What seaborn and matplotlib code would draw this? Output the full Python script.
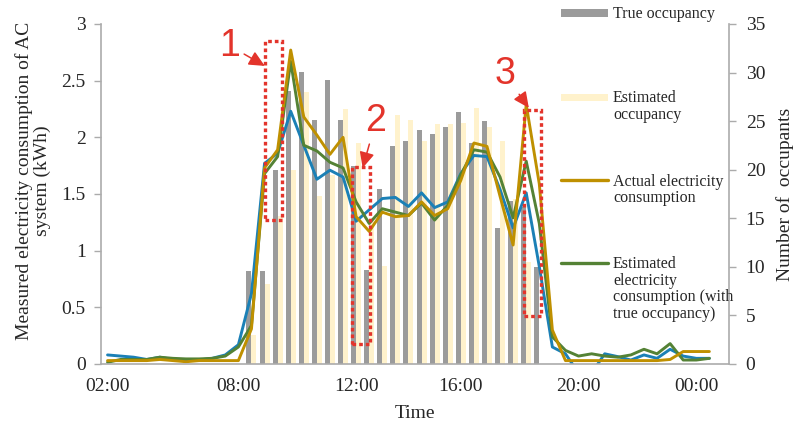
import pandas as pd
import matplotlib.pyplot as plt
import seaborn as sns
from matplotlib.patches import Rectangle
from matplotlib.lines import Line2D

# ---- data (one value per half-hour slot, 48 slots on the time axis) ----
true_occupancy = [0, 0, 0, 0, 0, 0, 0, 0, 0, 0, 0,
                  9.6, 9.6, 20.0, 28.1, 30.1, 25.1, 29.2, 25.1, 20.4, 9.7,
                  18.0, 22.4, 23.0, 24.1, 23.7, 24.4, 25.9, 22.7, 25.0, 14.0,
                  16.8, 16.2, 10.0,
                  0, 0, 0, 0, 0, 0, 0, 0, 0, 0, 0, 0, 0, 0]
est_occupancy = [0, 0, 0, 0, 0, 0, 0, 0, 0, 0, 0,
                 3.0, 8.2, 15.2, 20.0, 28.0, 17.3, 19.5, 26.2, 22.7, 15.0,
                 10.1, 25.6, 25.1, 23.0, 24.7, 24.7, 24.8, 26.4, 24.4, 23.0,
                 17.0, 10.5, 0,
                 0, 0, 0, 0, 0, 0, 0, 0, 0, 0, 0, 0, 0, 0]

# electricity (kWh), 47 readings
actual_kwh = [0.03, 0.03, 0.03, 0.03, 0.04, 0.03, 0.02, 0.03, 0.03, 0.03,
              0.03, 0.31, 1.73, 1.89, 2.77, 2.18, 2.02, 1.85, 2.00, 1.30,
              1.17, 1.34, 1.30, 1.31, 1.43, 1.31, 1.37, 1.62, 1.95, 1.92,
              1.48, 1.05, 2.29, 1.59, 0.30, 0.03, 0.03, 0.03, 0.03, 0.03,
              0.03, 0.03, 0.03, 0.04, 0.11, 0.11, 0.11]
est_kwh_true_occ = [0.015, 0.04, 0.04, 0.04, 0.06, 0.05, 0.045, 0.045, 0.05, 0.07,
                    0.15, 0.34, 1.68, 1.83, 2.67, 1.93, 1.88, 1.78, 1.73, 1.43,
                    1.24, 1.37, 1.34, 1.31, 1.42, 1.27, 1.40, 1.67, 1.89, 1.87,
                    1.65, 1.29, 1.79, 1.24, 0.24, 0.12, 0.07, 0.09, 0.07, 0.06,
                    0.08, 0.13, 0.09, 0.18, 0.035, 0.035, 0.05]
est_kwh_est_occ = [0.08, 0.07, 0.06, 0.04, 0.06, 0.04, 0.035, 0.035, 0.05, 0.08,
                   0.17, 0.62, 1.77, 1.86, 2.23, 1.93, 1.63, 1.71, 1.65, 1.26,
                   1.36, 1.46, 1.47, 1.39, 1.51, 1.38, 1.43, 1.68, 1.84, 1.83,
                   1.54, 1.20, 1.51, 0.86, 0.15, 0.09, -0.08, -0.08, 0.09, 0.065,
                   0.035, 0.08, 0.05, 0.13, 0.07, 0.05, 0.05]

time_tick_slots = [0, 10, 19, 27, 36, 45]
time_tick_labels = ["02:00", "08:00", "12:00", "16:00", "20:00", "00:00"]

# highlighted periods: (first slot edge, last slot edge, low kWh, high kWh)
highlight_boxes = [(12.07, 13.37, 1.27, 2.85),
                   (18.69, 20.03, 0.18, 1.74),
                   (31.82, 33.14, 0.42, 2.24)]
highlight_labels = ["1", "2", "3"]
label_xy = [(9.3, 2.81), (20.5, 2.14), (30.35, 2.56)]
arrow_tip = [(12.02, 2.63), (19.5, 1.73), (32.2, 2.26)]

GRAY = "#9b9b9b"
YELLOW = "#fff2cc"
GOLD = "#bf9000"
GREEN = "#548235"
BLUE = "#1b80b6"
RED = "#e3342b"
AXC = "#ababab"

sns.set_style("white")
plt.rcParams["font.family"] = ["Liberation Serif", "DejaVu Serif"]

fig = plt.figure(figsize=(8.01, 4.25), dpi=100)
ax = fig.add_axes([101 / 801, 1 - 364 / 425, 628 / 801, 340 / 425])
ax2 = ax.twinx()

n_slots = len(true_occupancy)
bars = pd.DataFrame({
    "slot": list(range(n_slots)) * 2,
    "occupants": true_occupancy + est_occupancy,
    "series": ["True occupancy"] * n_slots + ["Estimated occupancy"] * n_slots,
})
sns.barplot(data=bars, x="slot", y="occupants", hue="series",
            hue_order=["True occupancy", "Estimated occupancy"],
            palette=[GRAY, YELLOW], width=0.76, saturation=1,
            errorbar=None, legend=False, linewidth=0, ax=ax2)

slots = list(range(len(actual_kwh)))
sns.lineplot(x=slots, y=est_kwh_est_occ, color=BLUE, lw=2.1, ax=ax)
sns.lineplot(x=slots, y=est_kwh_true_occ, color=GREEN, lw=2.1, ax=ax)
sns.lineplot(x=slots, y=actual_kwh, color=GOLD, lw=2.1, ax=ax)

ax.set_zorder(ax2.get_zorder() + 1)
ax.patch.set_visible(False)

# red dotted boxes + numbered arrows
for (x0, x1, y0, y1) in highlight_boxes:
    ax.add_patch(Rectangle((x0, y0), x1 - x0, y1 - y0, fill=False,
                           edgecolor=RED, lw=2.4, linestyle=(0, (1.1, 0.9)),
                           zorder=5))
for lab, xy, tip in zip(highlight_labels, label_xy, arrow_tip):
    ax.annotate(lab, xy=tip, xytext=xy, ha="center", va="center",
                fontsize=27, color=RED, family="Liberation Sans",
                arrowprops=dict(arrowstyle="-|>,head_length=0.95,head_width=0.45",
                                mutation_scale=10, lw=1.1, color=RED,
                                shrinkA=1, shrinkB=0), zorder=6)

# axes limits / ticks
ax.set_xlim(-0.5, n_slots - 0.5)
ax.set_ylim(0, 3)
ax2.set_ylim(0, 35)
ax.set_yticks([0, 0.5, 1, 1.5, 2, 2.5, 3], ["0", "0.5", "1", "1.5", "2", "2.5", "3"])
ax2.set_yticks(range(0, 36, 5))
ax.set_xticks(time_tick_slots, time_tick_labels)
ax.set_xticks([i - 0.5 for i in range(n_slots + 1)], minor=True)

ax.tick_params(axis="x", which="major", length=0, pad=10, labelsize=14)
ax.tick_params(axis="x", which="minor", length=4, width=1, color=AXC, direction="out")
ax.tick_params(axis="y", length=5, width=1, color=AXC, direction="out", pad=6, labelsize=14)
ax2.tick_params(axis="y", length=5, width=1, color=AXC, direction="out", pad=7, labelsize=14)

for s in ["top", "right"]:
    ax.spines[s].set_visible(False)
for s in ["top", "left", "bottom"]:
    ax2.spines[s].set_visible(False)
for sp in [ax.spines["left"], ax.spines["bottom"], ax2.spines["right"]]:
    sp.set_color(AXC)
    sp.set_linewidth(1.2)
ax.grid(False)
ax2.grid(False)

ax.set_xlabel("Time", fontsize=14, labelpad=7)
ax.set_ylabel("Measured electricity consumption of AC\nsystem (kWh)", fontsize=14,
              linespacing=1.05)
ax.yaxis.set_label_coords(-0.08, 0.54)
ax2.set_ylabel("Number of  occupants", fontsize=14)
ax2.yaxis.set_label_coords(1.075, 0.5)

# legend at the right-hand side, Excel-style spacing
def fx(px):
    return px / 801


def fy(py):
    return 1 - py / 425


legend_rows = [("bar", GRAY, "True occupancy", 13),
               ("bar", YELLOW, "Estimated\noccupancy", 97),
               ("line", GOLD, "Actual electricity\nconsumption", 180),
               ("line", GREEN, "Estimated\nelectricity\nconsumption (with\ntrue occupancy)", 263)]
for kind, col, text, ypx in legend_rows:
    if kind == "bar":
        fig.add_artist(Rectangle((fx(561), fy(ypx + 3.5)), fx(608) - fx(561), 7 / 425,
                                 transform=fig.transFigure, color=col, lw=0))
    else:
        fig.add_artist(Line2D([fx(561), fx(608)], [fy(ypx), fy(ypx)],
                              transform=fig.transFigure, color=col, lw=2.4))
    fig.text(fx(613), fy(ypx - 6.5), text, fontsize=11.5, va="top", ha="left",
             linespacing=1.04)

fig.savefig("out.png", dpi=100, facecolor="white")
